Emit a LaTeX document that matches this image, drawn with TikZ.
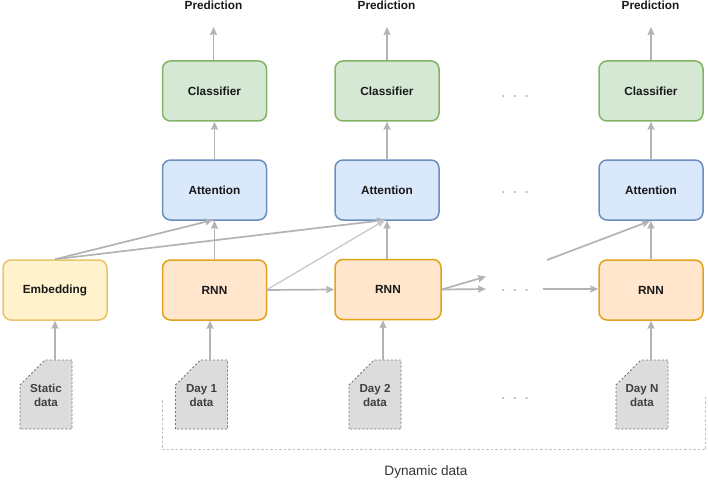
\documentclass[tikz,border=0pt]{standalone}
\usepackage{fontspec}
\setmainfont{Liberation Sans}
\usetikzlibrary{arrows.meta,calc}
\definecolor{arr}{HTML}{B3B3B3}
\definecolor{arrl}{HTML}{C8C8C8}
\definecolor{dots}{HTML}{B8B8B8}
\tikzset{
 x=1pt,y=-1pt,
 box/.style={draw,line width=1.5pt,rounded corners=8pt,minimum width=104pt,minimum height=60pt,inner sep=0pt,font=\bfseries\fontsize{11.8}{14}\selectfont,text=black!90,anchor=center},
 gbox/.style={box,draw=gd,fill=gf},
 bbox/.style={box,draw=bd,fill=bf},
 obox/.style={box,draw=od,fill=of},
 ybox/.style={box,draw=yd,fill=yf},
 con/.style={draw=arr,line width=1.7pt,-{Stealth[length=8pt,width=7pt,inset=1pt]}},
 conl/.style={con,draw=arrl,line width=1.3pt},
 doc/.style={draw=black!55,dash pattern=on 2pt off 2pt,line width=.8pt,fill=docf},
 doctext/.style={font=\bfseries\fontsize{11.6}{13.5}\selectfont,text=black!75,align=center,inner sep=0pt},
 pred/.style={font=\bfseries\fontsize{11.8}{14}\selectfont,text=black!90,inner sep=0pt},
 dotlabel/.style={font=\bfseries\fontsize{13}{13}\selectfont,text=dots,inner sep=0pt},
}
\definecolor{gd}{HTML}{82B366}\definecolor{gf}{HTML}{D5E8D4}
\definecolor{bd}{HTML}{6C8EBF}\definecolor{bf}{HTML}{DAE8FC}
\definecolor{od}{HTML}{E3A21A}\definecolor{of}{HTML}{FFE6CC}
\definecolor{yd}{HTML}{E6C56B}\definecolor{yf}{HTML}{FFF2CC}
\definecolor{docf}{HTML}{DCDCDC}
\newcommand{\docshape}[4]{% name, left x, text line 1, text line 2
 \draw[doc] (#2,429) -- (#2,385) -- (#2+25,360) -- (#2+52,360) -- (#2+52,429) -- cycle;
 \node[doctext] (#1) at (#2+26,395.5) {#3\\#4};
}
\begin{document}
\begin{tikzpicture}
\useasboundingbox (0,0) rectangle (708,481);
% boxes
\node[gbox] (c1) at (214.5,91) {Classifier};
\node[gbox] (c2) at (387,91) {Classifier};
\node[gbox] (c3) at (651,91) {Classifier};
\node[bbox] (a1) at (214.5,190) {Attention};
\node[bbox] (a2) at (387,190) {Attention};
\node[bbox] (a3) at (651,190) {Attention};
\node[ybox] (e) at (55,290) {Embedding};
\node[obox] (r1) at (214.5,290) {RNN};
\node[obox,minimum width=106pt] (r2) at (388,289.5) {RNN};
\node[obox] (r3) at (651,290) {RNN};
% documents
\docshape{s}{20}{Static}{data}
\docshape{d1}{175.5}{Day 1}{data}
\docshape{d2}{349}{Day 2}{data}
\docshape{dn}{616}{Day N}{data}
% free ends
\node[pred] (p1) at (213.5,5) {Prediction};
\node[pred] (p2) at (386.5,5) {Prediction};
\node[pred] (p3) at (650.5,5) {Prediction};
\coordinate (pc1) at (213.5,27);
\coordinate (pc2) at (387,27);
\coordinate (pc3) at (651,27);
\coordinate (sT) at (55,360);
\coordinate (d1T) at (210,360);
\coordinate (d2T) at (383,360);
\coordinate (dnT) at (651,360);
\coordinate (r2a) at (486,276.5);
\coordinate (r2b) at (486,289);
\coordinate (r3in) at (543,289);
\coordinate (a3in) at (547,260);
\coordinate (a3t) at (650,221);
\coordinate (a1t) at (213,220);
\coordinate (a2t) at (385,220);
\coordinate (r1R) at (266.5,290);
% arrows
\draw[con] (c1.north -| pc1) -- (pc1);
\draw[con] (c2.north) -- (pc2);
\draw[con] (c3.north) -- (pc3);
\draw[con] (a1.north) -- (c1.south);
\draw[con] (a2.north) -- (c2.south);
\draw[con] (a3.north) -- (c3.south);
\draw[con] (r1.north) -- (a1.south);
\draw[con] (r2.north -| a2.south) -- (a2.south);
\draw[con] (r3.north) -- (a3.south);
\draw[con] (sT) -- (e.south -| sT);
\draw[con] (d1T) -- (r1.south -| d1T);
\draw[con] (d2T) -- (r2.south -| d2T);
\draw[con] (dnT) -- (r3.south -| dnT);
\draw[con] (e.north) -- (a1t);
\draw[con] (e.north) -- (a2t);
\draw[conl] (r1R) -- (a2t);
\draw[con] (r1R) -- (r2.west |- 0,289.5);
\draw[con] (r2.east) -- (r2a);
\draw[con] (r2.east) -- (r2b);
\draw[con] (r3in) -- (r3.west |- r3in);
\draw[con] (a3in) -- (a3t);
% dots
\node[dotlabel] (dd1) at (515,97) {.\hspace{8pt}.\hspace{8pt}.};
\node[dotlabel] (dd2) at (515,193) {.\hspace{8pt}.\hspace{8pt}.};
\node[dotlabel] (dd3) at (515,291) {.\hspace{8pt}.\hspace{8pt}.};
\node[dotlabel] (dd4) at (515,399) {.\hspace{8pt}.\hspace{8pt}.};
% dynamic bracket
\draw[draw=black!25,dash pattern=on 2.5pt off 2pt,line width=.7pt] (162,400) -- (162,449.5) -- (705.5,449.5) -- (705.5,397);
\node[font=\fontsize{13.6}{16}\selectfont,text=black!80,inner sep=0pt] (dyn) at (426,472) {Dynamic data};
\end{tikzpicture}
\end{document}
